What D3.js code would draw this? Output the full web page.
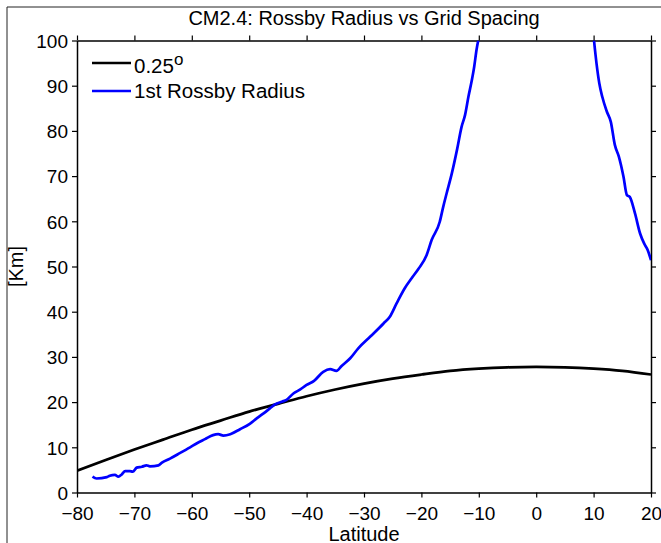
<!DOCTYPE html>
<html>
<head>
<meta charset="utf-8">
<script src="https://cdn.jsdelivr.net/npm/d3@7"></script>
<style>
  body { margin: 0; background: #fff; }
  svg { display: block; font-family: "Liberation Sans", Arial, Helvetica, sans-serif; }
</style>
</head>
<body>
<div id="chart"></div>
<script>
// 0.25 degree grid spacing [km] by latitude
const gridLat = [-80, -75, -70, -65, -60, -55, -50, -45, -40, -35, -30, -25, -20, -15, -10, -5, 0, 5, 10, 15, 20];
const gridKm = [4.8, 7.2, 9.5, 11.7, 13.9, 15.9, 17.9, 19.6, 21.3, 22.8, 24.1, 25.2, 26.1, 26.9, 27.4, 27.7, 27.8, 27.7, 27.4, 26.9, 26.1];

// 1st Rossby radius, southern branch
const rossbySouthLat = [-77.3, -76.6, -74.8, -74.3, -73.4, -72.8, -72.2, -71.6, -70.8, -70.3, -69.6, -68.7, -67.9, -67.3, -65.8, -65.2,
  -63.8, -62.1, -60.3, -59.1, -57.7, -56.3, -55.4, -54.5, -53.3, -51.6, -49.9, -48.7, -47.5, -46.4, -45.5, -44.3, -43.5, -42.3,
  -41.1, -40.0, -38.7, -37.1, -35.9, -34.8, -33.9, -32.4, -31.0, -28.9, -26.6, -25.5, -24.3, -22.9, -21.7, -20.5, -19.1, -18.2,
  -16.8, -16.2, -15.6, -14.7, -13.8, -13.0, -12.4, -11.8, -11.2, -10.8, -10.4, -10.1];
const rossbySouthKm = [3.5, 3.1, 3.4, 3.7, 3.9, 3.5, 4.0, 4.75, 4.75, 4.6, 5.5, 5.7, 6.0, 5.8, 6.0, 6.6,
  7.5, 8.7, 10.0, 10.9, 11.8, 12.7, 12.9, 12.6, 12.9, 14.0, 15.2, 16.4, 17.5, 18.6, 19.5, 20.1, 20.5, 21.9,
  22.8, 23.8, 24.7, 26.7, 27.3, 26.9, 28.0, 29.7, 31.9, 34.5, 37.4, 38.9, 41.9, 45.2, 47.4, 49.5, 52.5, 55.9,
  59.9, 63.2, 66.2, 70.6, 75.8, 80.9, 83.5, 87.6, 91.3, 94.2, 97.9, 100];

// 1st Rossby radius, northern branch
const rossbyNorthLat = [10.07, 10.5, 11.0, 11.5, 12.3, 13.0, 13.7, 14.4, 15.2, 15.8, 16.3, 17.2, 18.1, 18.8, 19.4, 20.0];
const rossbyNorthKm = [100, 95.0, 90.5, 87.6, 84.3, 82.0, 76.9, 74.3, 69.9, 65.8, 65.4, 61.8, 57.3, 55.1, 53.7, 51.4];

const xTicks = [-80, -70, -60, -50, -40, -30, -20, -10, 0, 10, 20];
const yTicks = [0, 10, 20, 30, 40, 50, 60, 70, 80, 90, 100];

const width = 661;
const height = 543;
const margin = { top: 40.5, left: 77, right: 10, bottom: 50.5 };

const svg = d3.select('#chart').append('svg')
    .attr('width', width)
    .attr('height', height);

// outer figure frame (cropped on the right and bottom)
svg.append('path')
    .attr('d', `M7,${height} L7,7 L${width},7`)
    .attr('fill', 'none')
    .attr('stroke', '#222')
    .attr('stroke-width', 1);

const x = d3.scaleLinear([-80, 20], [margin.left, width - margin.right]);
const y = d3.scaleLinear([0, 100], [height - margin.bottom, margin.top]);

const tickFont = 19;

function styleAxis(g) {
  g.selectAll('path.domain').attr('stroke', '#000').attr('stroke-width', 1.5);
  g.selectAll('.tick line').attr('stroke', '#000').attr('stroke-width', 1.2);
  g.selectAll('.tick text').attr('fill', '#000').style('font-size', tickFont + 'px')
      .style('font-family', '"Liberation Sans", Arial, sans-serif');
}

svg.append('g')
    .attr('transform', `translate(0,${y(0)})`)
    .call(d3.axisBottom(x).tickValues(xTicks).tickSize(5).tickSizeOuter(0).tickPadding(9))
    .call(styleAxis);

svg.append('g')
    .attr('transform', `translate(0,${y(100)})`)
    .call(d3.axisTop(x).tickValues(xTicks).tickSize(5).tickSizeOuter(0).tickFormat(''))
    .call(styleAxis);

svg.append('g')
    .attr('transform', `translate(${x(-80)},0)`)
    .call(d3.axisLeft(y).tickValues(yTicks).tickSize(5).tickSizeOuter(0).tickPadding(4))
    .call(styleAxis)
    .call(g => g.selectAll('.tick text').attr('dy', '0.36em'));

svg.append('g')
    .attr('transform', `translate(${x(20)},0)`)
    .call(d3.axisRight(y).tickValues(yTicks).tickSize(5).tickSizeOuter(0).tickFormat(''))
    .call(styleAxis);

svg.append('defs').append('clipPath')
    .attr('id', 'plot-clip')
  .append('rect')
    .attr('x', x(-80))
    .attr('y', y(100))
    .attr('width', x(20) - x(-80))
    .attr('height', y(0) - y(100));

const line = d3.line()
    .x(d => x(d[0]))
    .y(d => y(d[1]))
    .curve(d3.curveMonotoneX);

const plot = svg.append('g').attr('clip-path', 'url(#plot-clip)');

plot.append('path')
    .datum(d3.zip(gridLat, gridKm))
    .attr('d', line)
    .attr('fill', 'none')
    .attr('stroke', '#000')
    .attr('stroke-width', 2.7);

[d3.zip(rossbySouthLat, rossbySouthKm), d3.zip(rossbyNorthLat, rossbyNorthKm)].forEach(branch => {
  plot.append('path')
      .datum(branch)
      .attr('d', line)
      .attr('fill', 'none')
      .attr('stroke', '#0000ff')
      .attr('stroke-width', 2.7)
      .attr('stroke-linejoin', 'round');
});

// Title
svg.append('text')
    .attr('x', (x(-80) + x(20)) / 2)
    .attr('y', 25)
    .attr('text-anchor', 'middle')
    .style('font-size', '20px')
    .text('CM2.4: Rossby Radius vs Grid Spacing');

// Axis labels
svg.append('text')
    .attr('x', (x(-80) + x(20)) / 2)
    .attr('y', 541)
    .attr('text-anchor', 'middle')
    .style('font-size', '20px')
    .text('Latitude');

svg.append('text')
    .attr('transform', `translate(23,${(y(0) + y(100)) / 2}) rotate(-90)`)
    .attr('text-anchor', 'middle')
    .style('font-size', '20px')
    .text('[Km]');

// Legend
const legend = svg.append('g');
const legendItems = [
  { color: '#000', y: 63 },
  { color: '#0000ff', y: 91 }
];
legend.selectAll('line')
    .data(legendItems)
    .join('line')
    .attr('x1', 92)
    .attr('x2', 131)
    .attr('y1', d => d.y)
    .attr('y2', d => d.y)
    .attr('stroke', d => d.color)
    .attr('stroke-width', 2.7);

const t1 = legend.append('text')
    .attr('x', 134)
    .attr('y', 73)
    .style('font-size', '20.5px');
t1.append('tspan').text('0.25');
t1.append('tspan').attr('dy', -8).style('font-size', '17px').text('o');

legend.append('text')
    .attr('x', 134)
    .attr('y', 98)
    .style('font-size', '20.5px')
    .text('1st Rossby Radius');
</script>
</body>
</html>
